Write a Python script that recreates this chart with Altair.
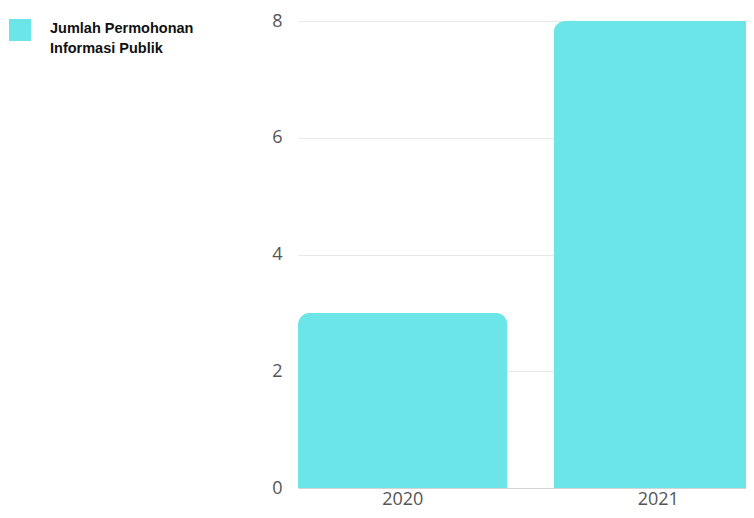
import altair as alt
import pandas as pd

years = ["2020", "2021"]
values = [3, 8]
series_lines = ["Jumlah Permohonan", "Informasi Publik"]
series_name = " ".join(series_lines)

df = pd.DataFrame({"year": years, "value": values, "series": [series_name] * len(years)})

chart = alt.Chart(df).mark_bar(
    cornerRadiusTopLeft=12, cornerRadiusTopRight=12
).encode(
    x=alt.X("year:N", title=None,
            scale=alt.Scale(paddingInner=0.18, paddingOuter=0),
            axis=alt.Axis(labelAngle=0, labelFontSize=18, labelFont="Open Sans",
                          labelColor="#555555", labelPadding=16, labelBaseline="alphabetic",
                          ticks=False, domain=False, grid=False)),
    y=alt.Y("value:Q", title=None,
            scale=alt.Scale(domain=[0, 8]),
            axis=alt.Axis(values=[0, 2, 4, 6, 8], labelFontSize=18, labelFont="Open Sans",
                          labelColor="#555555", labelPadding=16, ticks=False,
                          domain=False,
                          gridColor={"condition": {"test": "datum.value === 0", "value": "#d4d4d4"},
                                     "value": "#e8e8e8"})),
    color=alt.Color("series:N",
                    scale=alt.Scale(range=["#6ce5e8"]),
                    legend=alt.Legend(orient="none", legendX=-289, legendY=-2,
                                      symbolType="square", symbolSize=484,
                                      symbolStrokeWidth=0, symbolOpacity=1,
                                      labelExpr="''", labelOffset=0, padding=0,
                                      title=series_lines, titleOrient="right",
                                      titleFont="Liberation Sans", titleFontSize=14.5,
                                      titleFontWeight="bold", titleColor="#111111",
                                      titleLineHeight=20, titlePadding=19,
                                      titleBaseline="line-top", titleAnchor="start",
                                      titleLimit=300)),
).properties(
    width=465, height=467,
    autosize=alt.AutoSizeParams(type="none"),
    padding={"left": 290, "top": 13, "right": -17, "bottom": 22}
).configure_view(stroke=None)

chart.save("out.html", embed_options={"renderer": "svg", "actions": False})
